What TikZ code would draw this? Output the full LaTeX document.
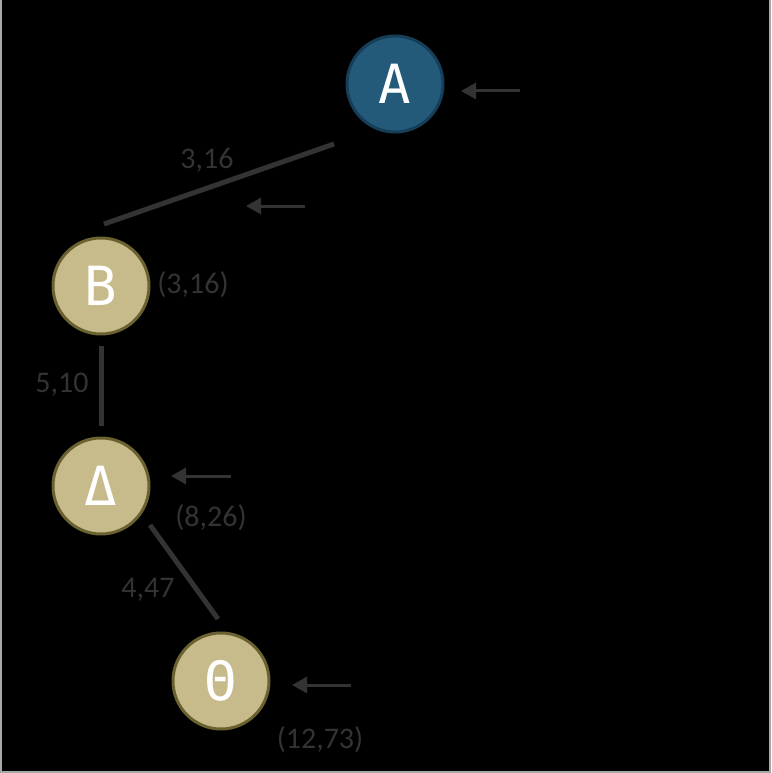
\documentclass[tikz,border=0pt]{standalone}
\usepackage{fontspec}
\setmainfont{Carlito}
\newfontfamily\nodefont{DejaVu Sans Mono}
\usetikzlibrary{arrows.meta}
\definecolor{bluefill}{HTML}{235A7A}
\definecolor{blueline}{HTML}{163E58}
\definecolor{tanfill}{HTML}{C8BB8B}
\definecolor{tanline}{HTML}{6B6232}
\definecolor{edgegray}{HTML}{333333}
\definecolor{framegray}{HTML}{A8A8A8}
\tikzset{
  vertex/.style={circle, minimum size=96pt, inner sep=0pt, line width=3pt, text=white, font=\nodefont\fontsize{54}{54}\selectfont},
  rootv/.style={vertex, fill=bluefill, draw=blueline},
  treev/.style={vertex, fill=tanfill, draw=tanline},
  edge/.style={draw=edgegray, line width=5pt},
  lab/.style={text=edgegray, font=\fontsize{30}{30}\selectfont, inner sep=0pt},
  ptr/.style={draw=edgegray, line width=3pt, -{Triangle[length=15pt,width=16pt]}}
}
\begin{document}
\begin{tikzpicture}[x=1pt,y=-1pt]
\fill[black] (0,0) rectangle (771,773);
\useasboundingbox (0,0) rectangle (771,773);
\draw[framegray, line width=2pt] (1,0) -- (1,772) -- (769.5,772) -- (769.5,0);

\node[rootv] (A) at (395,84) {A};
\node[treev] (B) at (101,286) {B};
\node[treev] (D) at (101,486) {Δ};
\node[treev] (T) at (221,681) {Θ};

\draw[edge] ([shift={(-61,60)}]A.center) -- ([shift={(3,-62)}]B.center);
\draw[edge] ([shift={(0,60)}]B.center) -- ([shift={(0,-60)}]D.center);
\draw[edge] ([shift={(49,39)}]D.center) -- ([shift={(-3,-62)}]T.center);

\node[lab] (l1) at (207,160) {3,16};
\node[lab] (l2) at (62,385) {5,10};
\node[lab] (l3) at (148,590) {4,47};

\node[lab] (pB) at (193,285) {(3,16)};
\node[lab] (pD) at (211,518) {(8,26)};
\node[lab] (pT) at (320,740) {(12,73)};

\coordinate (a1s) at (520,91); \coordinate (a1e) at (461,91);
\coordinate (a2s) at (305,206); \coordinate (a2e) at (246,206);
\coordinate (a3s) at (231,476); \coordinate (a3e) at (171,476);
\coordinate (a4s) at (351,685); \coordinate (a4e) at (292,685);
\draw[ptr] (a1s) -- (a1e);
\draw[ptr] (a2s) -- (a2e);
\draw[ptr] (a3s) -- (a3e);
\draw[ptr] (a4s) -- (a4e);
\end{tikzpicture}
\end{document}
